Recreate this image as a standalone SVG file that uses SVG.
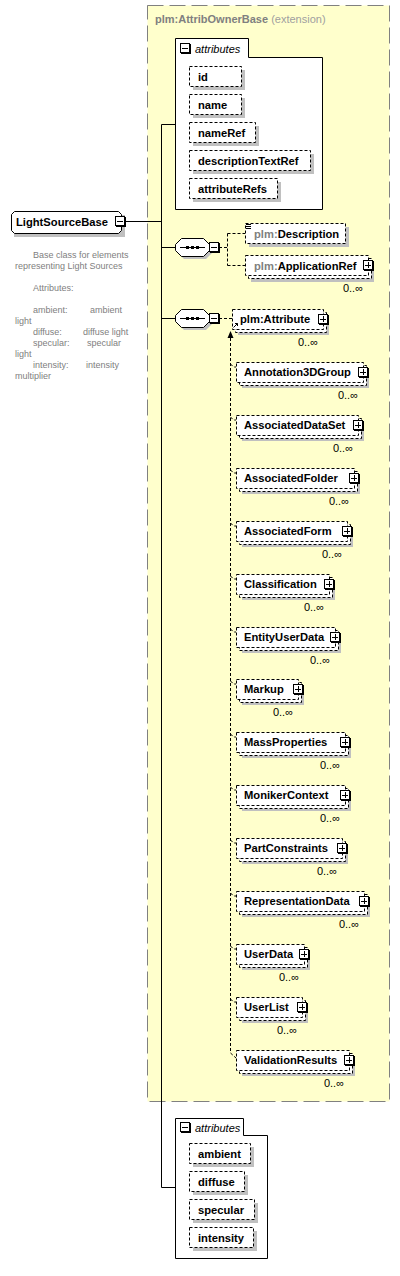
<svg xmlns="http://www.w3.org/2000/svg" xmlns:xlink="http://www.w3.org/1999/xlink" width="400" height="1276" viewBox="0 0 400 1276">
<style>
text { font-family: "Liberation Sans", Arial, sans-serif; }
.lbl { font-weight: bold; font-size: 11.2px; fill: #000; }
.pfx { fill: #808080; }
.card { font-size: 11px; fill: #000; }
.desc { font-size: 9px; fill: #808080; }
.ttl { font-size: 11px; font-weight: bold; fill: #808080; }
.ext { font-size: 11px; fill: #a0a0a0; }
.att { font-size: 11px; font-style: italic; fill: #000; }
.box { fill: #fff; stroke: #000; stroke-width: 1; stroke-dasharray: 3,2; }
.sh { fill: #c0c0c0; }
.solid { fill: none; stroke: #000; stroke-width: 1; }
.dash { fill: none; stroke: #000; stroke-width: 1; stroke-dasharray: 3,2; }
.frame { fill: #fff; stroke: #000; stroke-width: 1; }
</style>
<defs>
<g id="plus">
<rect x="1" y="1" width="10" height="10" fill="#000"/>
<rect x="0.5" y="0.5" width="9" height="9" fill="#fff" stroke="#000"/>
<path d="M2,5.5 H8 M5.5,2 V8" stroke="#000" fill="none"/>
</g>
<g id="minus">
<rect x="1" y="1" width="10" height="10" fill="#000"/>
<rect x="0.5" y="0.5" width="9" height="9" fill="#fff" stroke="#000"/>
<path d="M2,5.5 H8" stroke="#000" fill="none"/>
</g>
<g id="seq">
<polygon points="9,-6 31,-6 37,0 37,6 31,12 9,12 3,6 3,0" fill="#c0c0c0"/>
<polygon points="6.5,-8.5 28.5,-8.5 34.5,-2.5 34.5,3.5 28.5,9.5 6.5,9.5 0.5,3.5 0.5,-2.5" fill="#fff" stroke="#000"/>
<path d="M5,0.5 H30" stroke="#000" fill="none"/>
<rect x="11" y="-1" width="3" height="3" fill="#000"/>
<rect x="16" y="-1" width="3" height="3" fill="#000"/>
<rect x="21" y="-1" width="3" height="3" fill="#000"/>
<use xlink:href="#minus" x="34" y="-5"/>
</g>
</defs>

<g id="extension">
<rect x="147.5" y="5.5" width="242" height="1096" fill="#ffffcc" stroke="#808080" stroke-dasharray="16,6"/>
<text x="155" y="23" class="ttl">plm:AttribOwnerBase <tspan class="ext" font-weight="normal">(extension)</tspan></text>
</g>

<g id="connectors">
<path class="solid" d="M125,221.5 H161.5 M161.5,124.5 V1187.5 M161.5,124.5 H175 M161.5,247.5 H175 M161.5,318.5 H175 M161.5,1187.5 H175"/>
<path class="dash" d="M219,247.5 H227.5 M227.5,233.5 V265.5 M227.5,233.5 H245 M227.5,265.5 H245"/>
<path class="dash" d="M219,318.5 H232"/>
<path class="dash" d="M230.5,338 V1053 L236,1058"/>
<polygon points="230.5,331 227.5,338 233.5,338" fill="#000"/>
<path class="dash" d="M230.5,364 L233.5,367 H236 M230.5,417 L233.5,420 H236 M230.5,470 L233.5,473 H236 M230.5,523 L233.5,526 H236 M230.5,576 L233.5,579 H236 M230.5,629 L233.5,632 H236 M230.5,681 L233.5,684 H236 M230.5,734 L233.5,737 H236 M230.5,787 L233.5,790 H236 M230.5,840 L233.5,843 H236 M230.5,893 L233.5,896 H236 M230.5,946 L233.5,949 H236 M230.5,999 L233.5,1002 H236"/>
</g>

<g id="LightSourceBase">
<polygon points="17,215 125,215 125,237 14,237 14,218" class="sh"/>
<polygon points="14.5,211.5 118.5,211.5 121.5,214.5 121.5,230.5 118.5,233.5 14.5,233.5 11.5,230.5 11.5,214.5" class="frame"/>
<text x="16" y="226" class="lbl">LightSourceBase</text>
<use xlink:href="#minus" x="115" y="216"/>
</g>

<g id="description">
<text x="33" y="258" class="desc">Base class for elements</text>
<text x="15" y="269" class="desc">representing Light Sources</text>
<text x="33" y="291" class="desc">Attributes:</text>
<text x="33" y="313" class="desc">ambient:</text>
<text x="90" y="313" class="desc">ambient</text>
<text x="15" y="324" class="desc">light</text>
<text x="33" y="335" class="desc">diffuse:</text>
<text x="83" y="335" class="desc">diffuse light</text>
<text x="33" y="346" class="desc">specular:</text>
<text x="87" y="346" class="desc">specular</text>
<text x="15" y="357" class="desc">light</text>
<text x="33" y="368" class="desc">intensity:</text>
<text x="86" y="368" class="desc">intensity</text>
<text x="15" y="379" class="desc">multiplier</text>
</g>

<g id="attributes-base">
<polygon points="175.5,38.5 248.5,38.5 248.5,57.5 322.5,57.5 322.5,209.5 175.5,209.5" class="frame"/>
<use xlink:href="#minus" x="180" y="43"/>
<text x="195" y="53" class="att">attributes</text>
<g id="attr-id"><rect x="193" y="70" width="52" height="20" class="sh"/><rect x="189.5" y="66.5" width="52" height="20" class="box"/><text x="198" y="81" class="lbl">id</text></g>
<g id="attr-name"><rect x="193" y="98" width="52" height="20" class="sh"/><rect x="189.5" y="94.5" width="52" height="20" class="box"/><text x="198" y="109" class="lbl">name</text></g>
<g id="attr-nameRef"><rect x="193" y="126" width="66" height="20" class="sh"/><rect x="189.5" y="122.5" width="66" height="20" class="box"/><text x="198" y="137" class="lbl">nameRef</text></g>
<g id="attr-descriptionTextRef"><rect x="193" y="154" width="121" height="20" class="sh"/><rect x="189.5" y="150.5" width="121" height="20" class="box"/><text x="198" y="165" class="lbl">descriptionTextRef</text></g>
<g id="attr-attributeRefs"><rect x="193" y="182" width="88" height="20" class="sh"/><rect x="189.5" y="178.5" width="88" height="20" class="box"/><text x="198" y="193" class="lbl">attributeRefs</text></g>
</g>

<g id="seq1"><use xlink:href="#seq" x="175" y="247"/></g>
<g id="seq2"><use xlink:href="#seq" x="175" y="318"/></g>

<g id="plm-Description">
<rect x="249" y="227" width="100" height="20" class="sh"/>
<rect x="245.5" y="223.5" width="100" height="20" class="box"/>
<path d="M246,224.5 H251 M246,226.5 H251 M246,228.5 H251" stroke="#000" fill="none"/>
<text x="254" y="238" class="lbl"><tspan class="pfx">plm:</tspan>Description</text>
</g>

<g id="plm-ApplicationRef">
<rect x="251" y="262" width="123" height="20" class="sh"/>
<rect x="248.5" y="258.5" width="123" height="20" class="box"/>
<rect x="245.5" y="255.5" width="123" height="20" class="box"/>
<text x="254" y="270" class="lbl"><tspan class="pfx">plm:</tspan>ApplicationRef</text>
<use xlink:href="#plus" x="363" y="260"/>
<text x="363" y="292" class="card" text-anchor="end">0..∞</text>
</g>

<g id="plm-Attribute">
<rect x="238" y="315" width="91" height="20" class="sh"/>
<rect x="235.5" y="312.5" width="91" height="20" class="box"/>
<rect x="232.5" y="309.5" width="91" height="20" class="box"/>
<path d="M233.5,327.5 L237.5,323.5 M235,323.5 H237.5 V326" stroke="#000" fill="none"/>
<text x="240" y="323" class="lbl">plm:Attribute</text>
<use xlink:href="#plus" x="318" y="314"/>
<text x="318" y="346" class="card" text-anchor="end">0..∞</text>
</g>

<g id="Annotation3DGroup"><rect x="242" y="368" width="127" height="20" class="sh"/><rect x="239.5" y="365.5" width="127" height="20" class="box"/><rect x="236.5" y="362.5" width="127" height="20" class="box"/><text x="244" y="376" class="lbl">Annotation3DGroup</text><use xlink:href="#plus" x="358" y="367"/><text x="358" y="399" class="card" text-anchor="end">0..∞</text></g>
<g id="AssociatedDataSet"><rect x="242" y="421" width="122" height="20" class="sh"/><rect x="239.5" y="418.5" width="122" height="20" class="box"/><rect x="236.5" y="415.5" width="122" height="20" class="box"/><text x="244" y="429" class="lbl">AssociatedDataSet</text><use xlink:href="#plus" x="353" y="420"/><text x="353" y="452" class="card" text-anchor="end">0..∞</text></g>
<g id="AssociatedFolder"><rect x="242" y="474" width="118" height="20" class="sh"/><rect x="239.5" y="471.5" width="118" height="20" class="box"/><rect x="236.5" y="468.5" width="118" height="20" class="box"/><text x="244" y="482" class="lbl">AssociatedFolder</text><use xlink:href="#plus" x="349" y="473"/><text x="349" y="505" class="card" text-anchor="end">0..∞</text></g>
<g id="AssociatedForm"><rect x="242" y="527" width="111" height="20" class="sh"/><rect x="239.5" y="524.5" width="111" height="20" class="box"/><rect x="236.5" y="521.5" width="111" height="20" class="box"/><text x="244" y="535" class="lbl">AssociatedForm</text><use xlink:href="#plus" x="342" y="526"/><text x="342" y="558" class="card" text-anchor="end">0..∞</text></g>
<g id="Classification"><rect x="242" y="580" width="93" height="20" class="sh"/><rect x="239.5" y="577.5" width="93" height="20" class="box"/><rect x="236.5" y="574.5" width="93" height="20" class="box"/><text x="244" y="588" class="lbl">Classification</text><use xlink:href="#plus" x="324" y="579"/><text x="324" y="611" class="card" text-anchor="end">0..∞</text></g>
<g id="EntityUserData"><rect x="242" y="633" width="99" height="20" class="sh"/><rect x="239.5" y="630.5" width="99" height="20" class="box"/><rect x="236.5" y="627.5" width="99" height="20" class="box"/><text x="244" y="641" class="lbl">EntityUserData</text><use xlink:href="#plus" x="330" y="632"/><text x="330" y="664" class="card" text-anchor="end">0..∞</text></g>
<g id="Markup"><rect x="242" y="685" width="62" height="20" class="sh"/><rect x="239.5" y="682.5" width="62" height="20" class="box"/><rect x="236.5" y="679.5" width="62" height="20" class="box"/><text x="244" y="693" class="lbl">Markup</text><use xlink:href="#plus" x="293" y="684"/><text x="293" y="716" class="card" text-anchor="end">0..∞</text></g>
<g id="MassProperties"><rect x="242" y="738" width="109" height="20" class="sh"/><rect x="239.5" y="735.5" width="109" height="20" class="box"/><rect x="236.5" y="732.5" width="109" height="20" class="box"/><text x="244" y="746" class="lbl">MassProperties</text><use xlink:href="#plus" x="340" y="737"/><text x="340" y="769" class="card" text-anchor="end">0..∞</text></g>
<g id="MonikerContext"><rect x="242" y="791" width="109" height="20" class="sh"/><rect x="239.5" y="788.5" width="109" height="20" class="box"/><rect x="236.5" y="785.5" width="109" height="20" class="box"/><text x="244" y="799" class="lbl">MonikerContext</text><use xlink:href="#plus" x="340" y="790"/><text x="340" y="822" class="card" text-anchor="end">0..∞</text></g>
<g id="PartConstraints"><rect x="242" y="844" width="106" height="20" class="sh"/><rect x="239.5" y="841.5" width="106" height="20" class="box"/><rect x="236.5" y="838.5" width="106" height="20" class="box"/><text x="244" y="852" class="lbl">PartConstraints</text><use xlink:href="#plus" x="337" y="843"/><text x="337" y="875" class="card" text-anchor="end">0..∞</text></g>
<g id="RepresentationData"><rect x="242" y="897" width="128" height="20" class="sh"/><rect x="239.5" y="894.5" width="128" height="20" class="box"/><rect x="236.5" y="891.5" width="128" height="20" class="box"/><text x="244" y="905" class="lbl">RepresentationData</text><use xlink:href="#plus" x="359" y="896"/><text x="359" y="928" class="card" text-anchor="end">0..∞</text></g>
<g id="UserData"><rect x="242" y="950" width="68" height="20" class="sh"/><rect x="239.5" y="947.5" width="68" height="20" class="box"/><rect x="236.5" y="944.5" width="68" height="20" class="box"/><text x="244" y="958" class="lbl">UserData</text><use xlink:href="#plus" x="299" y="949"/><text x="299" y="981" class="card" text-anchor="end">0..∞</text></g>
<g id="UserList"><rect x="242" y="1003" width="66" height="20" class="sh"/><rect x="239.5" y="1000.5" width="66" height="20" class="box"/><rect x="236.5" y="997.5" width="66" height="20" class="box"/><text x="244" y="1011" class="lbl">UserList</text><use xlink:href="#plus" x="297" y="1002"/><text x="297" y="1034" class="card" text-anchor="end">0..∞</text></g>
<g id="ValidationResults"><rect x="242" y="1056" width="113" height="20" class="sh"/><rect x="239.5" y="1053.5" width="113" height="20" class="box"/><rect x="236.5" y="1050.5" width="113" height="20" class="box"/><text x="244" y="1064" class="lbl">ValidationResults</text><use xlink:href="#plus" x="344" y="1055"/><text x="344" y="1087" class="card" text-anchor="end">0..∞</text></g>

<g id="attributes-own">
<polygon points="175.5,1118.5 243.5,1118.5 243.5,1135.5 267.5,1135.5 267.5,1258.5 175.5,1258.5" class="frame"/>
<use xlink:href="#minus" x="180" y="1122"/>
<text x="195" y="1132" class="att">attributes</text>
<g id="attr-ambient"><rect x="193" y="1147" width="61" height="20" class="sh"/><rect x="189.5" y="1143.5" width="61" height="20" class="box"/><text x="198" y="1158" class="lbl">ambient</text></g>
<g id="attr-diffuse"><rect x="193" y="1175" width="55" height="20" class="sh"/><rect x="189.5" y="1171.5" width="55" height="20" class="box"/><text x="198" y="1186" class="lbl">diffuse</text></g>
<g id="attr-specular"><rect x="193" y="1203" width="65" height="20" class="sh"/><rect x="189.5" y="1199.5" width="65" height="20" class="box"/><text x="198" y="1214" class="lbl">specular</text></g>
<g id="attr-intensity"><rect x="193" y="1231" width="64" height="20" class="sh"/><rect x="189.5" y="1227.5" width="64" height="20" class="box"/><text x="198" y="1242" class="lbl">intensity</text></g>
</g>
</svg>
